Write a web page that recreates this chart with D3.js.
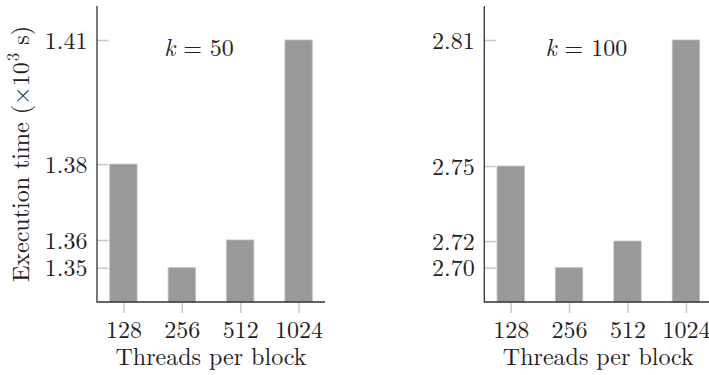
<!DOCTYPE html>
<html>
<head>
<meta charset="utf-8">
<script src="https://cdn.jsdelivr.net/npm/d3@7"></script>
</head>
<body style="margin:0; background:#fff">
<script>
// data (execution time, x10^3 s)
var threads = ["128", "256", "512", "1024"];
var timesK50 = [1.3778, 1.3505, 1.3578, 1.4105];
var timesK100 = [2.7502, 2.7040, 2.7161, 2.8075];
// axis limits of each panel
var limitsK50 = [1.34146, 1.41946];
var limitsK100 = [2.68841, 2.82295];
var panelLabels = ["50", "100"];

var width = 709, height = 375;
var serif = "'Latin Modern Roman', 'Liberation Serif', serif";

var svg = d3.select("body").append("svg")
    .attr("width", width)
    .attr("height", height);

function drawPanel(left, values, limits, kLabel, showYLabel) {
  var top = 6, bottom = 302, plotW = 228;

  var x = d3.scalePoint()
      .domain(threads)
      .range([left, left + plotW])
      .padding(0.452);

  var y = d3.scaleLinear()
      .domain(limits)
      .range([bottom, top]);

  var barW = 27.3;
  var g = svg.append("g");

  // bars
  g.selectAll(".bar")
      .data(values)
    .enter().append("rect")
      .attr("class", "bar")
      .attr("x", function(d, i) { return x(threads[i]) - barW / 2; })
      .attr("y", function(d) { return y(d); })
      .attr("width", barW)
      .attr("height", function(d) { return bottom - y(d); })
      .attr("fill", "#999")
      .attr("stroke", "#bdbdbd")
      .attr("stroke-width", 0.8);

  // y ticks (inside, light) at the data values
  var yAxis = d3.axisRight(y)
      .tickValues(values)
      .tickSize(11.5)
      .tickFormat(d3.format(".2f"));

  var ya = g.append("g")
      .attr("transform", "translate(" + left + ",0)")
      .call(yAxis);
  ya.select(".domain").remove();
  ya.selectAll(".tick line").attr("stroke", "#c8c8c8").attr("stroke-width", 1.5);
  ya.selectAll(".tick text")
      .attr("x", -9.5)
      .attr("dy", "0.34em")
      .attr("text-anchor", "end")
      .attr("fill", "#222")
      .style("font-family", serif)
      .style("font-size", "24px");

  // x ticks (outside, light)
  var xAxis = d3.axisBottom(x).tickSize(11);
  var xa = g.append("g")
      .attr("transform", "translate(0," + bottom + ")")
      .call(xAxis);
  xa.select(".domain").remove();
  xa.selectAll(".tick line").attr("stroke", "#c8c8c8").attr("stroke-width", 1.5);
  xa.selectAll(".tick text")
      .attr("y", 36)
      .attr("dy", 0)
      .attr("fill", "#222")
      .style("font-family", serif)
      .style("font-size", "24px");

  // axis lines
  g.append("path")
      .attr("d", "M" + left + "," + top + "V" + bottom + "H" + (left + plotW))
      .attr("fill", "none")
      .attr("stroke", "#333")
      .attr("stroke-width", 1.3);

  g.append("text")
      .attr("x", left + plotW / 2)
      .attr("y", 365)
      .attr("text-anchor", "middle")
      .attr("fill", "#222")
      .style("font-family", serif)
      .style("font-size", "24px")
      .text("Threads per block");

  var k = g.append("text")
      .attr("x", left + 102)
      .attr("y", 56)
      .attr("text-anchor", "middle")
      .attr("fill", "#222")
      .style("font-family", serif)
      .style("font-size", "24px");
  k.append("tspan").style("font-style", "italic").text("k");
  k.append("tspan").text(" = " + kLabel);

  if (showYLabel) {
    var t = g.append("text")
        .attr("transform", "translate(29,154) rotate(-90)")
        .attr("text-anchor", "middle")
        .attr("fill", "#222")
        .style("font-family", serif)
        .style("font-size", "24px");
    t.append("tspan").text("Execution time (\u00d710");
    t.append("tspan").attr("dx", 1).attr("dy", -10).style("font-size", "17px").text("3");
    t.append("tspan").attr("dy", 10).text(" s)");
  }
}

drawPanel(97, timesK50, limitsK50, panelLabels[0], true);
drawPanel(484.3, timesK100, limitsK100, panelLabels[1], false);
</script>
</body>
</html>
